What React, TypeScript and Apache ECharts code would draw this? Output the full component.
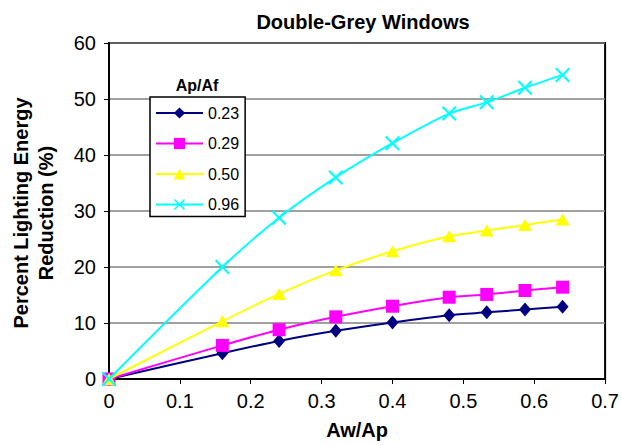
import React, { useEffect, useRef } from "react";
import * as echarts from "echarts";

// Window-to-perimeter area ratio (x axis)
const awAp = [0, 0.16, 0.24, 0.32, 0.4, 0.48, 0.533, 0.587, 0.64];

// Percent lighting energy reduction for each perimeter/floor area ratio
const r023 = [0, 4.6, 6.8, 8.6, 10.1, 11.4, 11.9, 12.4, 12.9];
const r029 = [0, 6.0, 8.8, 11.1, 13.0, 14.6, 15.1, 15.8, 16.4];
const r050 = [0, 10.3, 15.2, 19.4, 22.8, 25.5, 26.5, 27.5, 28.5];
const r096 = [0, 20.0, 28.8, 36.0, 42.1, 47.4, 49.4, 52.0, 54.3];

const seriesNames = ["0.23", "0.29", "0.50", "0.96"];
const seriesColors = ["#000080", "#FF00FF", "#FFFF00", "#00FFFF"];

const FONT = "'Liberation Sans', Arial, sans-serif";

const crossPath =
  "path://M0,1 L1,0 L5,4 L9,0 L10,1 L6,5 L10,9 L9,10 L5,6 L1,10 L0,9 L4,5 Z";

export default function App() {
  const ref = useRef<HTMLDivElement>(null);

  useEffect(() => {
    if (!ref.current) return;
    const chart = echarts.init(ref.current, undefined, { renderer: "svg" });

    const toPairs = (ys: number[]) => awAp.map((x, i) => [x, ys[i]]);
    const symbols = ["diamond", "rect", "triangle", crossPath];
    const sizes: any[] = [[12, 14], 13, [14, 12], 15];
    const values = [r023, r029, r050, r096];

    chart.setOption({
      animation: false,
      backgroundColor: "#fff",
      textStyle: { fontFamily: FONT },
      title: {
        text: "Double-Grey Windows",
        left: 358,
        textAlign: "center",
        top: 7,
        textStyle: { fontFamily: FONT, fontSize: 20, fontWeight: "bold", color: "#000" },
      },
      grid: {
        left: 109,
        right: 15,
        top: 43,
        bottom: 64,
        show: true,
        borderColor: "#000",
        borderWidth: 2,
        backgroundColor: "transparent",
      },
      legend: {
        orient: "vertical",
        left: 150,
        top: 97,
        padding: [8, 6, 4, 5],
        itemWidth: 47,
        itemHeight: 14,
        itemGap: 14.5,
        borderColor: "#000",
        borderWidth: 1.5,
        backgroundColor: "#fff",
        textStyle: { fontFamily: FONT, fontSize: 16, color: "#000" },
        data: seriesNames,
      },
      xAxis: {
        type: "value",
        min: 0,
        max: 0.7,
        interval: 0.1,
        name: "Aw/Ap",
        nameLocation: "middle",
        nameGap: 41,
        nameTextStyle: { fontFamily: FONT, fontSize: 20, fontWeight: "bold", color: "#000" },
        axisLine: { show: true, lineStyle: { color: "#000", width: 2 } },
        axisTick: { show: true, inside: false, length: 5, lineStyle: { color: "#000" } },
        axisLabel: { fontFamily: FONT, fontSize: 20, color: "#000", margin: 12 },
        splitLine: { show: false },
      },
      yAxis: {
        type: "value",
        min: 0,
        max: 60,
        interval: 10,
        axisLine: { show: true, lineStyle: { color: "#000", width: 2 } },
        axisTick: { show: true, inside: false, length: 5, lineStyle: { color: "#000" } },
        axisLabel: { fontFamily: FONT, fontSize: 20, color: "#000", margin: 13 },
        splitLine: { show: true, lineStyle: { color: "#808080", width: 1.5 } },
      },
      graphic: [
        {
          type: "text",
          x: 33,
          y: 213,
          rotation: Math.PI / 2,
          style: {
            text: "Percent Lighting Energy\nReduction (%)",
            fontFamily: FONT,
            fontSize: 20,
            fontWeight: "bold",
            lineHeight: 25,
            fill: "#000",
            align: "center",
            verticalAlign: "middle",
          },
        },
        {
          type: "text",
          x: 197,
          y: 85,
          z: 10,
          style: {
            text: "Ap/Af",
            fontFamily: FONT,
            fontSize: 16,
            fontWeight: "bold",
            fill: "#000",
            align: "center",
            verticalAlign: "middle",
          },
        },
      ],
      series: seriesNames.map((name, i) => ({
        name,
        type: "line",
        data: toPairs(values[i]),
        smooth: 0.3,
        symbol: symbols[i],
        symbolSize: sizes[i],
        showAllSymbol: true,
        lineStyle: { color: seriesColors[i], width: 2 },
        itemStyle: { color: seriesColors[i] },
        z: 2 + i,
      })),
    });

    return () => chart.dispose();
  }, []);

  return (
    <div
      ref={ref}
      style={{ position: "fixed", left: 0, top: 0, width: 622, height: 445 }}
    />
  );
}
